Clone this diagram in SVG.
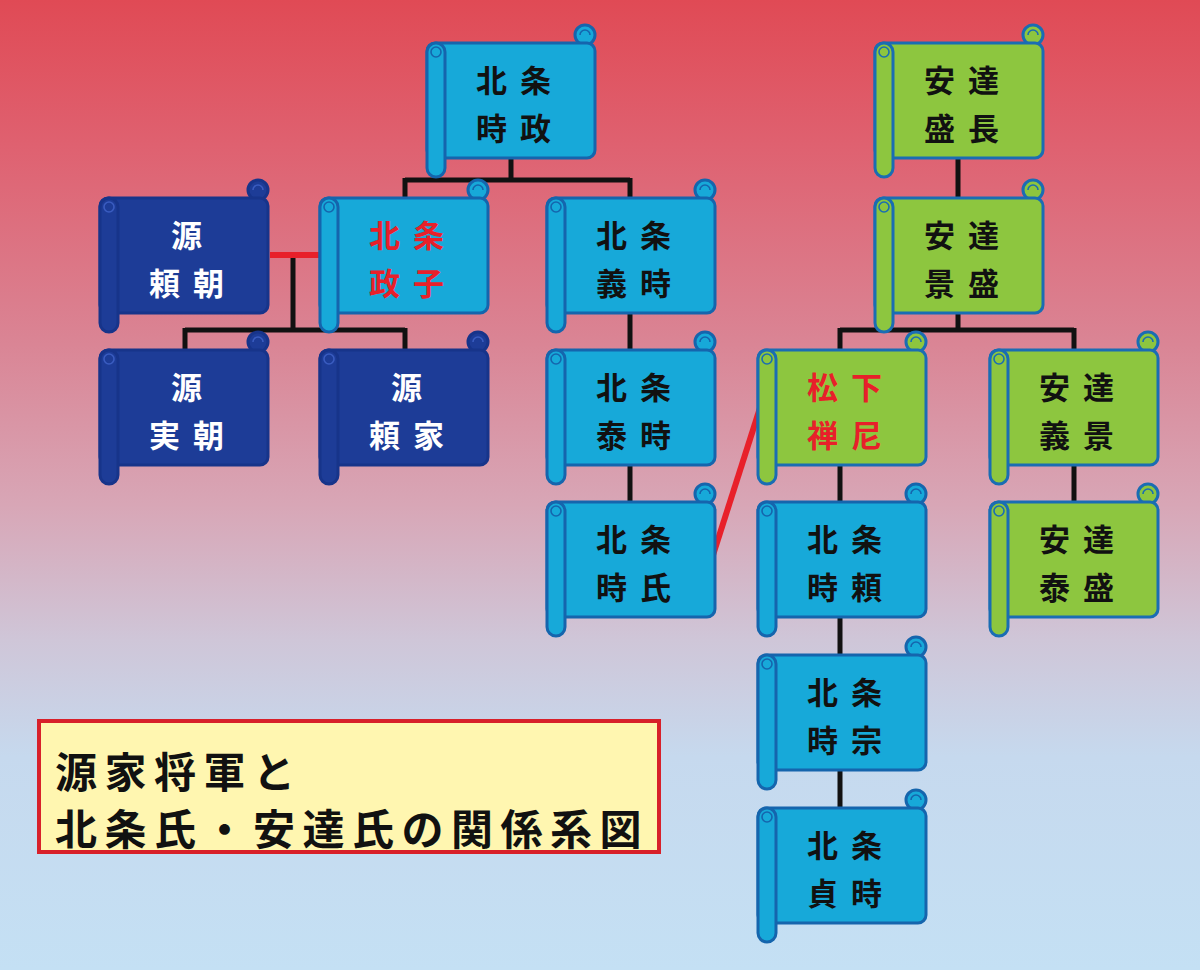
<svg xmlns="http://www.w3.org/2000/svg" width="1200" height="970" viewBox="0 0 1200 970">
<defs>
<linearGradient id="bg" x1="0" y1="0" x2="0" y2="1">
<stop offset="0" stop-color="#e04a55"/>
<stop offset="0.15" stop-color="#df6170"/>
<stop offset="0.35" stop-color="#da8494"/>
<stop offset="0.52" stop-color="#d8a6b6"/>
<stop offset="0.66" stop-color="#cfc6d8"/>
<stop offset="0.78" stop-color="#c6d9ee"/>
<stop offset="1" stop-color="#c4e0f4"/>
</linearGradient>
<g id="scroll">
<circle cx="158" cy="-8" r="10"/>
<rect x="0" y="0" width="168" height="115" rx="8"/>
<rect x="0" y="0" width="18" height="134" rx="9"/>
</g>
<g id="curls" fill="none" stroke-width="1.6">
<circle cx="9" cy="9" r="5"/>
<path d="M153,-8 a5,5 0 1,1 10,0"/>
</g>
</defs>
<style>
.lb use{fill:#17a9d9;stroke:#1565ad;stroke-width:3}
.db use{fill:#1d3c97;stroke:#17348a;stroke-width:3}
.gr use{fill:#8dc63f;stroke:#1a6db3;stroke-width:3}
.lb .c{stroke:#1565ad}
.db .c{stroke:#3a5cc0}
.gr .c{stroke:#1a6db3}
.t{font-family:"Noto Sans CJK JP","Noto Sans CJK SC",sans-serif;font-size:31px;font-weight:700;text-anchor:middle;letter-spacing:13px}
.k{fill:#111}
.w{fill:#fff}
.r{fill:#e8202a}
.ln{stroke:#111;stroke-width:5;fill:none}
.red{stroke:#e8202a;stroke-width:6;fill:none}
.title{font-family:"Noto Sans CJK JP",sans-serif;font-size:42px;font-weight:700;fill:#111;letter-spacing:7.5px}
</style>
<rect width="1200" height="970" fill="url(#bg)"/>

<g id="connectors">
<path class="ln" d="M511,158 V180 M405,180 H630 M405,178 V198 M630,178 V198"/>
<path class="ln" d="M293,255 V330 M185,330 H405 M185,328 V350 M405,328 V350"/>
<path class="ln" d="M630,313 V350 M630,465 V502"/>
<path class="ln" d="M958,158 V198 M958,313 V330 M840,330 H1074 M840,328 V350 M1074,328 V350"/>
<path class="ln" d="M1074,465 V502 M840,465 V502 M840,617 V655 M840,770 V808"/>
<path class="red" d="M270,255 H320"/>
<path class="red" d="M713,555 L760,408"/>
</g>

<g id="n-tokimasa" class="lb" transform="translate(427,43)"><use href="#scroll"/><use href="#curls" class="c"/><text class="t k" x="93" y="49">北条</text><text class="t k" x="93" y="97">時政</text></g>
<g id="n-yoritomo" class="db" transform="translate(100,198)"><use href="#scroll"/><use href="#curls" class="c"/><text class="t w" x="93" y="49">源</text><text class="t w" x="93" y="97">頼朝</text></g>
<g id="n-masako" class="lb" transform="translate(320,198)"><use href="#scroll"/><use href="#curls" class="c"/><text class="t r" x="93" y="49">北条</text><text class="t r" x="93" y="97">政子</text></g>
<g id="n-yoshitoki" class="lb" transform="translate(547,198)"><use href="#scroll"/><use href="#curls" class="c"/><text class="t k" x="93" y="49">北条</text><text class="t k" x="93" y="97">義時</text></g>
<g id="n-sanetomo" class="db" transform="translate(100,350)"><use href="#scroll"/><use href="#curls" class="c"/><text class="t w" x="93" y="49">源</text><text class="t w" x="93" y="97">実朝</text></g>
<g id="n-yoriie" class="db" transform="translate(320,350)"><use href="#scroll"/><use href="#curls" class="c"/><text class="t w" x="93" y="49">源</text><text class="t w" x="93" y="97">頼家</text></g>
<g id="n-yasutoki" class="lb" transform="translate(547,350)"><use href="#scroll"/><use href="#curls" class="c"/><text class="t k" x="93" y="49">北条</text><text class="t k" x="93" y="97">泰時</text></g>
<g id="n-tokiuji" class="lb" transform="translate(547,502)"><use href="#scroll"/><use href="#curls" class="c"/><text class="t k" x="93" y="49">北条</text><text class="t k" x="93" y="97">時氏</text></g>
<g id="n-morinaga" class="gr" transform="translate(875,43)"><use href="#scroll"/><use href="#curls" class="c"/><text class="t k" x="93" y="49">安達</text><text class="t k" x="93" y="97">盛長</text></g>
<g id="n-kagemori" class="gr" transform="translate(875,198)"><use href="#scroll"/><use href="#curls" class="c"/><text class="t k" x="93" y="49">安達</text><text class="t k" x="93" y="97">景盛</text></g>
<g id="n-zenni" class="gr" transform="translate(758,350)"><use href="#scroll"/><use href="#curls" class="c"/><text class="t r" x="93" y="49">松下</text><text class="t r" x="93" y="97">禅尼</text></g>
<g id="n-yoshikage" class="gr" transform="translate(990,350)"><use href="#scroll"/><use href="#curls" class="c"/><text class="t k" x="93" y="49">安達</text><text class="t k" x="93" y="97">義景</text></g>
<g id="n-tokiyori" class="lb" transform="translate(758,502)"><use href="#scroll"/><use href="#curls" class="c"/><text class="t k" x="93" y="49">北条</text><text class="t k" x="93" y="97">時頼</text></g>
<g id="n-yasumori" class="gr" transform="translate(990,502)"><use href="#scroll"/><use href="#curls" class="c"/><text class="t k" x="93" y="49">安達</text><text class="t k" x="93" y="97">泰盛</text></g>
<g id="n-tokimune" class="lb" transform="translate(758,655)"><use href="#scroll"/><use href="#curls" class="c"/><text class="t k" x="93" y="49">北条</text><text class="t k" x="93" y="97">時宗</text></g>
<g id="n-sadatoki" class="lb" transform="translate(758,808)"><use href="#scroll"/><use href="#curls" class="c"/><text class="t k" x="93" y="49">北条</text><text class="t k" x="93" y="97">貞時</text></g>

<g id="title">
<rect x="39" y="721" width="620" height="131" fill="#fff6b0" stroke="#d8202a" stroke-width="4"/>
<text class="title" x="55" y="788">源家将軍と</text>
<text class="title" x="55" y="845">北条氏・安達氏の関係系図</text>
</g>
</svg>
